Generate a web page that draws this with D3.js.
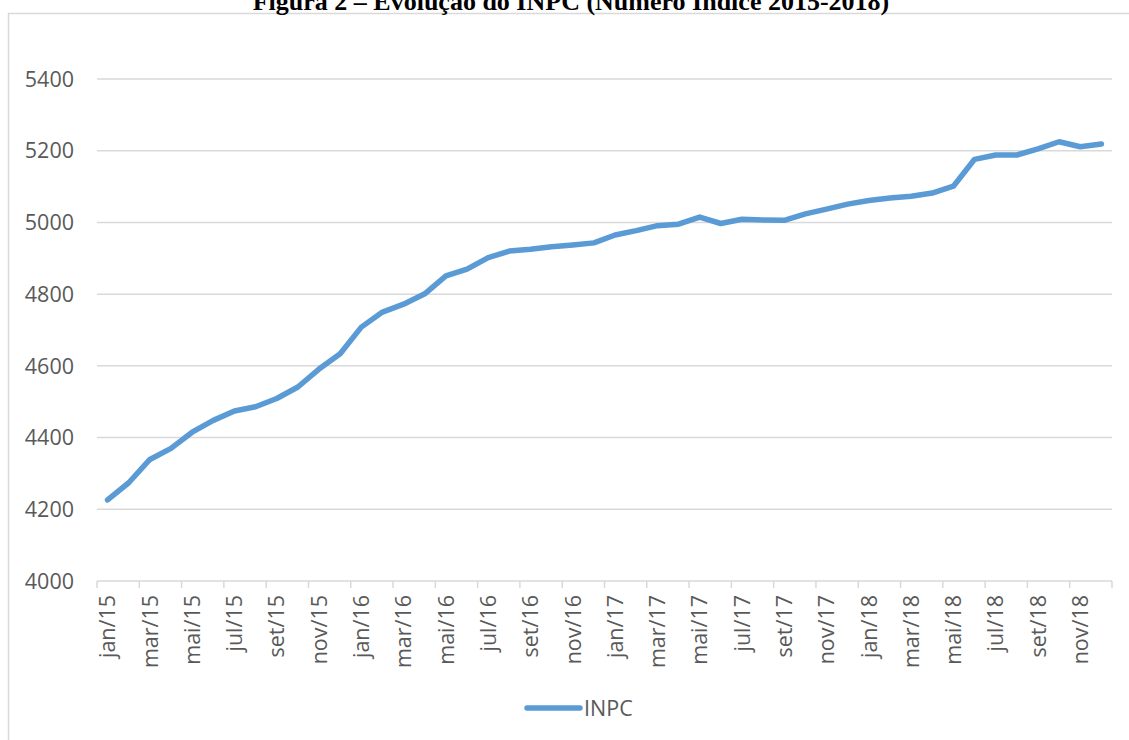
<!DOCTYPE html>
<html>
<head>
<meta charset="utf-8">
<script src="https://cdn.jsdelivr.net/npm/d3@7"></script>
<style>
  body { margin: 0; background: #fff; }
  svg { display: block; }
</style>
</head>
<body>
<svg id="chart" width="1129" height="740"></svg>
<script>
// * chart data
const titleText = "Figura 2 – Evolução do INPC (Número Índice 2015-2018)";
const seriesName = "INPC";
const monthNames = ["jan", "fev", "mar", "abr", "mai", "jun", "jul", "ago", "set", "out", "nov", "dez"];
const years = ["15", "16", "17", "18"];
const months = years.flatMap((y) => monthNames.map((m) => `${m}/${y}`));
const inpcValues = [
  4226, 4274, 4339, 4370, 4415, 4448, 4474, 4486, 4509, 4541, 4591, 4634,
  4708, 4750, 4772, 4801, 4851, 4870, 4902, 4920, 4925, 4932, 4937, 4943,
  4965, 4977, 4991, 4995, 5015, 4997, 5009, 5007, 5006, 5024, 5037, 5051,
  5061, 5068, 5073, 5082, 5101, 5176, 5188, 5188, 5205, 5225, 5211, 5219,
];
const yTicks = [4000, 4200, 4400, 4600, 4800, 5000, 5200, 5400];

const data = months.map((m, i) => ({ month: m, value: inpcValues[i] }));

const svg = d3.select("#chart");
const margin = { left: 97, right: 1112, top: 79, bottom: 581 };
const labelFont = "'Open Sans', sans-serif";
const gray = "#595959";
const gridColor = "#d9d9d9";
const lineColor = "#5b9bd5";

// * outer chart border (top + left visible)
svg.append("rect")
  .attr("x", 8.5).attr("y", 13.5)
  .attr("width", 1140).attr("height", 760)
  .style("fill", "none")
  .style("stroke", gridColor)
  .style("stroke-width", 1.5);

// * title (its top runs off the page, as in the source)
svg.append("text")
  .attr("x", 571).attr("y", 10)
  .attr("text-anchor", "middle")
  .style("font-family", "'Liberation Serif', 'Times New Roman', serif")
  .style("font-weight", "bold")
  .style("font-size", "26px")
  .style("fill", "#000")
  .text(titleText);

const xScale = d3.scaleBand().domain(months).range([margin.left, margin.right]).padding(0);
const yScale = d3.scaleLinear().domain([4000, 5400]).range([margin.bottom, margin.top]);

// * gridlines
svg.append("g")
  .selectAll("line")
  .data(yTicks.slice(1))
  .enter()
  .append("line")
  .attr("x1", margin.left).attr("x2", margin.right)
  .attr("y1", (d) => yScale(d)).attr("y2", (d) => yScale(d))
  .style("stroke", gridColor)
  .style("stroke-width", 1.5);

// * y axis labels
svg.append("g")
  .selectAll("text")
  .data(yTicks)
  .enter()
  .append("text")
  .attr("x", 74)
  .attr("y", (d) => yScale(d))
  .attr("dy", "0.36em")
  .attr("text-anchor", "end")
  .style("font-family", labelFont)
  .style("font-size", "21.5px")
  .style("fill", gray)
  .text((d) => d);

// * x axis line + tick marks every two months
const xAxis = svg.append("g");
xAxis.append("line")
  .attr("x1", margin.left).attr("x2", margin.right)
  .attr("y1", margin.bottom).attr("y2", margin.bottom)
  .style("stroke", gridColor)
  .style("stroke-width", 1.5);

const tickPos = months.filter((m, i) => i % 2 === 0).map((m) => xScale(m)).concat([margin.right]);
xAxis.selectAll("line.tick")
  .data(tickPos)
  .enter()
  .append("line")
  .attr("class", "tick")
  .attr("x1", (d) => d).attr("x2", (d) => d)
  .attr("y1", margin.bottom).attr("y2", margin.bottom + 7)
  .style("stroke", gridColor)
  .style("stroke-width", 1.5);

xAxis.selectAll("text")
  .data(months.filter((m, i) => i % 2 === 0))
  .enter()
  .append("text")
  .attr("transform", (m) => `translate(${xScale(m) + xScale.bandwidth() / 2},${margin.bottom + 14}) rotate(-90)`)
  .attr("dy", "0.36em")
  .attr("text-anchor", "end")
  .style("font-family", labelFont)
  .style("font-size", "21.5px")
  .style("fill", gray)
  .text((m) => m);

// * the INPC line
const line = d3.line()
  .x((d) => xScale(d.month) + xScale.bandwidth() / 2)
  .y((d) => yScale(d.value));

svg.append("path")
  .datum(data)
  .attr("d", line)
  .style("fill", "none")
  .style("stroke", lineColor)
  .style("stroke-width", 5.5)
  .style("stroke-linejoin", "round")
  .style("stroke-linecap", "round");

// * legend
const legend = svg.append("g");
legend.append("line")
  .attr("x1", 527).attr("x2", 580)
  .attr("y1", 708).attr("y2", 708)
  .style("stroke", lineColor)
  .style("stroke-width", 5.5)
  .style("stroke-linecap", "round");
legend.append("text")
  .attr("x", 584).attr("y", 708)
  .attr("dy", "0.36em")
  .style("font-family", labelFont)
  .style("font-size", "21.5px")
  .style("fill", gray)
  .text(seriesName);
</script>
</body>
</html>
